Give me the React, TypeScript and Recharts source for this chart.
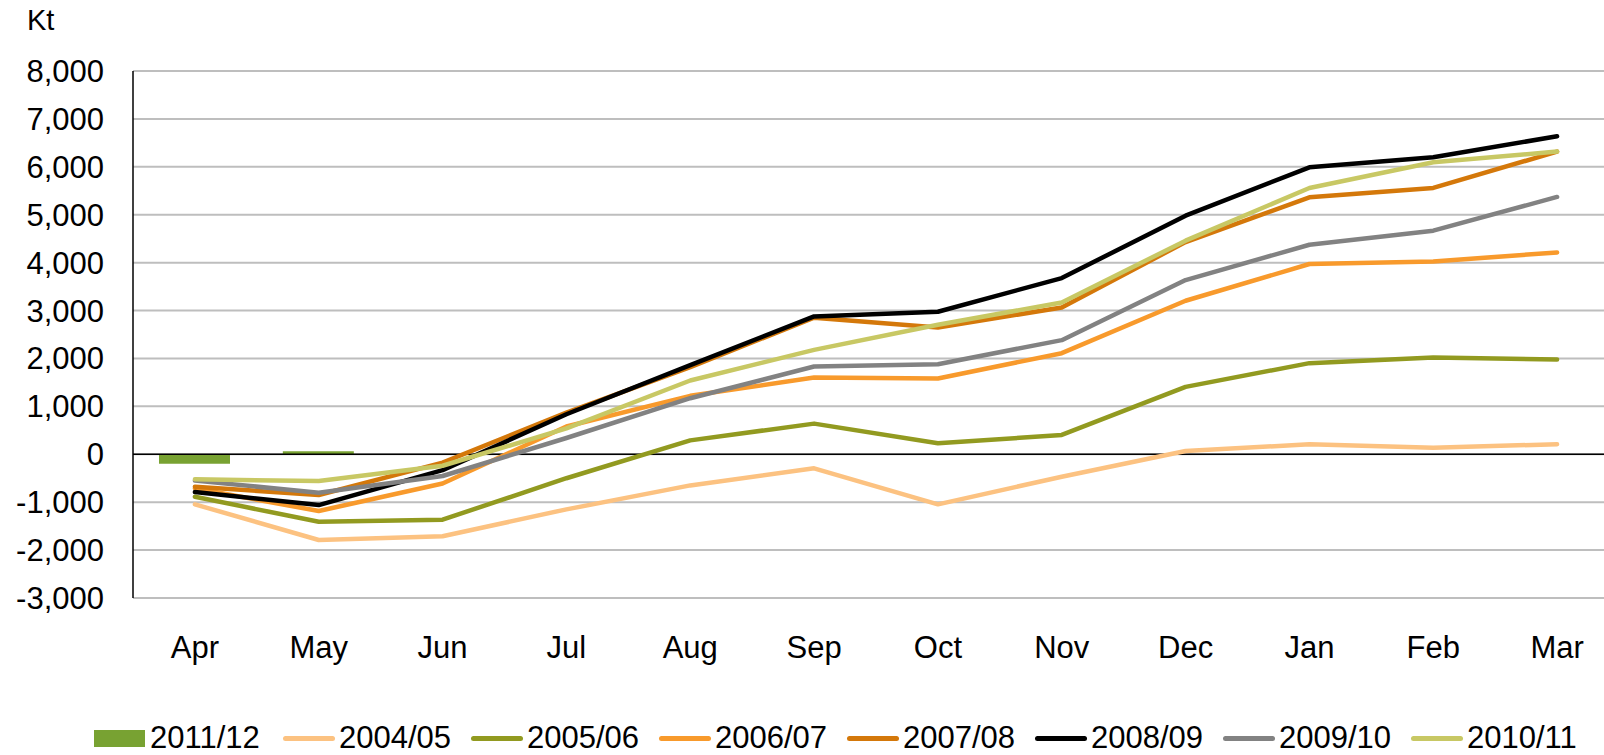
import { Bar, CartesianGrid, ComposedChart, Line, ReferenceLine, XAxis, YAxis } from "recharts"

const months = ["Apr", "May", "Jun", "Jul", "Aug", "Sep", "Oct", "Nov", "Dec", "Jan", "Feb", "Mar"]

const y2011_12 = [-196, 65, null, null, null, null, null, null, null, null, null, null]
const y2004_05 = [-1045, -1790, -1710, -1150, -650, -293, -1045, -468, 69, 209, 138, 209]
const y2005_06 = [-885, -1410, -1365, -500, 290, 640, 230, 403, 1406, 1902, 2019, 1977]
const y2006_07 = [-710, -1185, -610, 580, 1220, 1601, 1580, 2110, 3204, 3971, 4025, 4213]
const y2007_08 = [-677, -850, -175, 870, 1820, 2850, 2646, 3064, 4430, 5363, 5559, 6318]
const y2008_09 = [-788, -1060, -330, 836, 1860, 2877, 2974, 3678, 4980, 5990, 6199, 6637]
const y2009_10 = [-550, -802, -453, 340, 1170, 1831, 1880, 2382, 3636, 4374, 4667, 5371]
const y2010_11 = [-523, -558, -240, 540, 1540, 2180, 2702, 3168, 4458, 5559, 6094, 6318]

const yTicks = [-3000, -2000, -1000, 0, 1000, 2000, 3000, 4000, 5000, 6000, 7000, 8000]

const barSeries = { key: "2011/12", values: y2011_12, color: "#78A232" }

const lineSeries = [
  { key: "2004/05", values: y2004_05, color: "#FCC281" },
  { key: "2005/06", values: y2005_06, color: "#929A20" },
  { key: "2006/07", values: y2006_07, color: "#F89A2C" },
  { key: "2007/08", values: y2007_08, color: "#D4780A" },
  { key: "2008/09", values: y2008_09, color: "#000000" },
  { key: "2009/10", values: y2009_10, color: "#828282" },
  { key: "2010/11", values: y2010_11, color: "#C8C864" },
]

const data = months.map((m, i) => {
  const row: Record<string, string | number | null> = { month: m, [barSeries.key]: barSeries.values[i] }
  lineSeries.forEach((s) => {
    row[s.key] = s.values[i]
  })
  return row
})

const font = "'Liberation Sans', Arial, sans-serif"
const fontSize = 31

export default function App() {
  return (
    <div
      style={{
        position: "absolute",
        left: 0,
        top: 0,
        width: 1604,
        height: 755,
        overflow: "hidden",
        background: "#fff",
        fontFamily: font,
      }}
    >
      <div style={{ position: "absolute", left: 27, top: 5, fontSize: 29, lineHeight: "30px", color: "#000" }}>Kt</div>

      <ComposedChart
        width={1620}
        height={755}
        data={data}
        margin={{ top: 71, right: 1, bottom: 97, left: 0 }}
        barSize={71}
        style={{ fontFamily: font }}
      >
        <CartesianGrid vertical={false} stroke="#BEBEBE" strokeWidth={2} />
        <XAxis
          dataKey="month"
          axisLine={false}
          tickLine={false}
          tickMargin={32}
          height={60}
          interval={0}
          tick={{ fill: "#000", fontSize }}
        />
        <YAxis
          domain={[-3000, 8000]}
          ticks={yTicks}
          width={133}
          axisLine={{ stroke: "#000", strokeWidth: 1.5 }}
          tickLine={false}
          tickMargin={23}
          interval={0}
          tick={{ fill: "#000", fontSize }}
          tickFormatter={(v: number) => v.toLocaleString("en-US")}
        />
        <ReferenceLine y={0} stroke="#000" strokeWidth={1.5} />
        <Bar dataKey={barSeries.key} fill={barSeries.color} isAnimationActive={false} />
        {lineSeries.map((s) => (
          <Line
            key={s.key}
            type="linear"
            dataKey={s.key}
            stroke={s.color}
            strokeWidth={4.5}
            strokeLinecap="round"
            strokeLinejoin="round"
            dot={false}
            activeDot={false}
            isAnimationActive={false}
          />
        ))}
      </ComposedChart>

      <div
        style={{
          position: "absolute",
          left: 94,
          top: 723,
          display: "flex",
          alignItems: "center",
          fontSize,
          lineHeight: "30px",
          color: "#000",
          whiteSpace: "nowrap",
        }}
      >
        <div style={{ display: "flex", alignItems: "center", marginRight: 19 }}>
          <div style={{ width: 51, height: 17, background: barSeries.color, marginRight: 5 }} />
          <span style={{ width: 114 }}>{barSeries.key}</span>
        </div>
        {lineSeries.map((s) => (
          <div key={s.key} style={{ display: "flex", alignItems: "center", marginRight: 19 }}>
            <div style={{ width: 52, height: 5, borderRadius: 3, background: s.color, marginRight: 4 }} />
            <span style={{ width: 113 }}>{s.key}</span>
          </div>
        ))}
      </div>
    </div>
  )
}
